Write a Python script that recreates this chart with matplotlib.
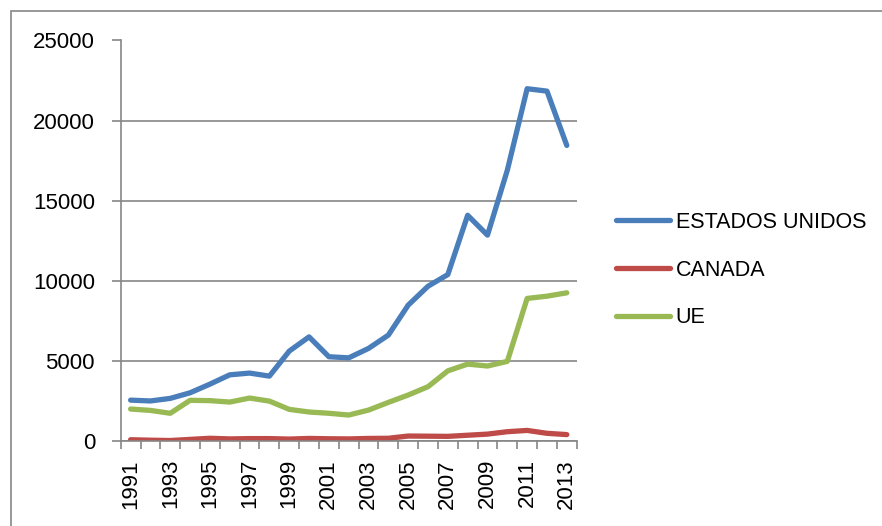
import matplotlib.pyplot as plt
from matplotlib.patches import Rectangle

years = list(range(1991, 2014))
estados_unidos = [2550, 2500, 2660, 3010, 3550, 4130, 4240, 4050, 5610, 6500, 5260, 5190,
                  5780, 6610, 8480, 9660, 10390, 14090, 12850, 16900, 21990, 21840, 18450]
canada = [80, 50, 30, 100, 170, 130, 150, 150, 120, 160, 140, 130,
          160, 170, 310, 300, 290, 360, 430, 580, 660, 480, 400]
ue = [1995, 1910, 1730, 2540, 2520, 2430, 2680, 2490, 1975, 1810, 1730, 1620,
      1930, 2410, 2870, 3390, 4380, 4800, 4680, 4970, 8900, 9040, 9250]

series = [("ESTADOS UNIDOS", estados_unidos, "#4A7EBB"),
          ("CANADA", canada, "#BE4B48"),
          ("UE", ue, "#98B954")]

plt.rcParams['font.family'] = ['Liberation Sans', 'DejaVu Sans']
grey = "#868686"

fig = plt.figure(figsize=(8.82, 5.26), dpi=100)
fig.patches.append(Rectangle((11 / 882, -0.1), 1.2, 1 - 10.5 / 526 + 0.1,
                             transform=fig.transFigure, fill=False,
                             edgecolor=grey, linewidth=1.2))

ax = fig.add_axes([120.7 / 882, 1 - 441 / 526, 456 / 882, 400.5 / 526])
x = list(range(len(years)))
for name, vals, col in series:
    ax.plot(x, vals, color=col, linewidth=3.8, label=name, solid_capstyle='round')

ax.set_ylim(0, 25000)
ax.set_yticks(range(0, 25001, 5000))
ax.set_xlim(-0.5, len(years) - 0.5)
ax.set_xticks(x[::2])
ax.set_xticklabels([str(y) for y in years[::2]], rotation=90)
ax.set_xticks([i - 0.5 for i in range(len(years) + 1)], minor=True)

ax.grid(axis='y', color=grey, linewidth=1.2)
ax.set_axisbelow(True)
for s in ['top', 'right']:
    ax.spines[s].set_visible(False)
for s in ['left', 'bottom']:
    ax.spines[s].set_color(grey)
    ax.spines[s].set_linewidth(1.2)

ax.tick_params(axis='y', length=6.5, width=1.2, color=grey, labelsize=16, pad=12)
ax.tick_params(axis='x', which='major', length=0, labelsize=16, pad=13)
ax.tick_params(axis='x', which='minor', length=6, width=1.2, color=grey)

fig.legend(loc='center left', bbox_to_anchor=(616 / 882, 1 - 270 / 526),
           frameon=False, fontsize=15.5, handlelength=2.5, handletextpad=0.28,
           labelspacing=1.25, borderpad=0, borderaxespad=0)

fig.savefig("out.png", dpi=100)
